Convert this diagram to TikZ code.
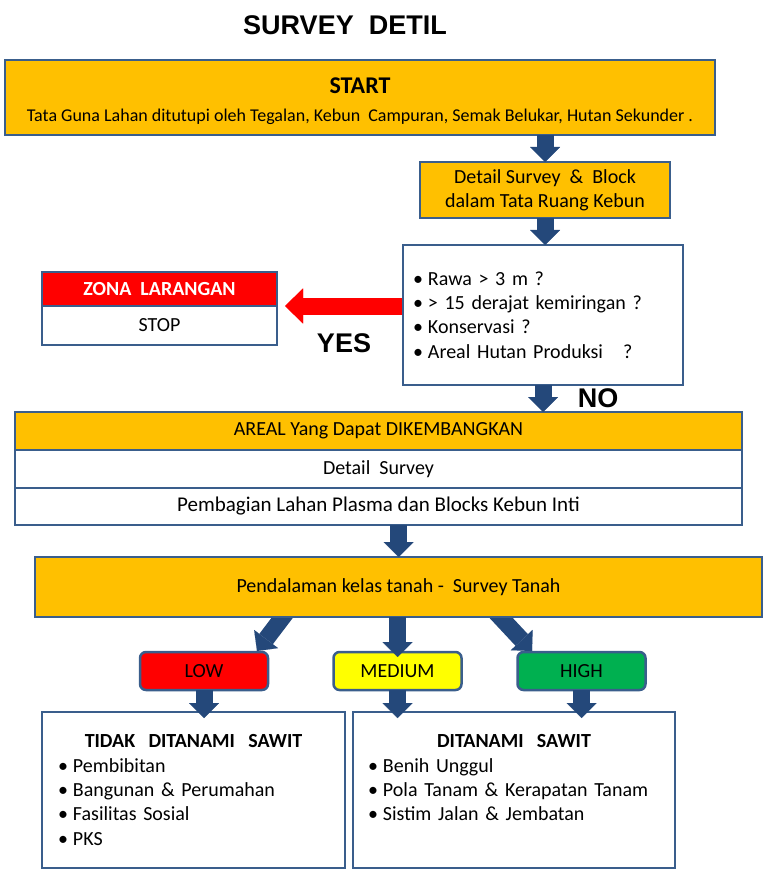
\documentclass[tikz,border=0pt]{standalone}
\usepackage{fontspec}
\setmainfont{Carlito}
\newfontfamily\arialf{Liberation Sans}
\usetikzlibrary{arrows.meta,calc,backgrounds}
\definecolor{gold}{HTML}{FFC000}
\definecolor{bord}{HTML}{3A5E8C}
\definecolor{arr}{HTML}{24487A}
\definecolor{lowred}{HTML}{FF0000}
\definecolor{medyel}{HTML}{FFFF00}
\definecolor{higreen}{HTML}{00B050}
\newcommand{\bul}{•\hspace{5pt}}
\begin{document}
\begin{tikzpicture}[x=1pt,y=-1pt,
 box/.style={draw=bord, line width=2.5pt, inner sep=0pt, outer sep=0pt, align=center, font=\fontsize{20}{24.4}\selectfont},
 barrow/.style={draw=arr, line width=17pt, -{Triangle[width=30pt,length=15pt,line width=0.01pt]}},
 rarrow/.style={draw=lowred, line width=17pt, -{Triangle[width=35pt,length=18pt,line width=0.01pt]}},
 level/.style={box, rounded corners=6pt, minimum width=128pt, minimum height=38pt},
 bigtxt/.style={font=\arialf\bfseries\fontsize{27}{31}\selectfont}
]
\useasboundingbox (0,0) rectangle (765,874);

\node[bigtxt] (title) at (345,25) {SURVEY\ \ DETIL};

\node[box, fill=gold, minimum width=710pt, minimum height=75pt] (start) at (360,97.5)
 {\rule{0pt}{23pt}{\bfseries\fontsize{24}{28}\selectfont START}\\[3pt]{\fontsize{18}{22}\selectfont Tata Guna Lahan ditutupi oleh Tegalan, Kebun\ \ Campuran, Semak Belukar, Hutan Sekunder\ .}};

\node[box, fill=gold, minimum width=250pt, minimum height=56pt] (detail) at (545,190)
 {Detail Survey\ \ \&\ \ Block\\dalam Tata Ruang Kebun};

\node[box, fill=white, minimum width=280pt, minimum height=140pt, text width=260pt, align=left, inner xsep=10pt] (quest) at (543,315)
 {\bul Rawa > 3 m ?\\ \bul > 15 derajat kemiringan ?\\ \bul Konservasi ?\\ \bul Areal Hutan Produksi\ \ \ ?};

\node[box, fill=lowred, text=white, font=\fontsize{20}{24.4}\selectfont\bfseries, minimum width=235pt, minimum height=34pt] (zona) at (159.5,289) {ZONA\ \ LARANGAN};
\node[box, fill=white, minimum width=235pt, minimum height=39pt, anchor=north] (stop) at (zona.south) {STOP};

\node[bigtxt] (yes) at (344,343) {YES};
\node[bigtxt] (no) at (598,398) {NO};

\node[box, fill=gold, minimum width=727pt, minimum height=38pt] (areal) at (378.5,431) {AREAL Yang Dapat DIKEMBANGKAN};
\node[box, fill=white, minimum width=727pt, minimum height=38pt, anchor=north] (det2) at (areal.south) {Detail\ \ Survey};
\node[box, fill=white, minimum width=727pt, minimum height=37pt, anchor=north, font=\fontsize{21}{25}\selectfont] (pemb) at (det2.south) {Pembagian Lahan Plasma dan Blocks Kebun Inti};

\node[box, fill=gold, minimum width=727pt, minimum height=60pt] (pend) at (398.5,587) {Pendalaman kelas tanah\ -\ \ Survey Tanah};

\node[level, fill=lowred] (low) at (204,671) {LOW};
\node[level, fill=medyel] (medium) at (397.5,671) {MEDIUM};
\node[level, fill=higreen] (high) at (581.5,671) {HIGH};

\node[box, fill=white, minimum width=303pt, minimum height=156pt, text width=271pt, align=left, inner xsep=16pt] (tidak) at (193.5,790)
 {\makebox[271pt]{\bfseries TIDAK\ \ DITANAMI\ \ SAWIT}\\ \bul Pembibitan\\ \bul Bangunan \& Perumahan\\ \bul Fasilitas Sosial\\ \bul PKS};
\node[box, fill=white, minimum width=322pt, minimum height=156pt, text width=292pt, align=left, inner xsep=15pt] (dit) at (514,790)
 {\makebox[292pt]{\bfseries DITANAMI\ \ SAWIT}\\ \bul Benih Unggul\\ \bul Pola Tanam \& Kerapatan Tanam\\ \bul Sistim Jalan \& Jembatan\\ \mbox{}};

\draw[barrow] (start.south -| detail.north) -- (detail.north);
\draw[barrow] (detail.south) -- (detail.south |- quest.north);
\draw[barrow] (quest.south) -- (quest.south |- areal.north);
\coordinate (rtip) at (285,306);
\draw[rarrow] ($(quest.west |- rtip)+(-1.5,0)$) -- (rtip);
\draw[barrow] (pemb.south -| pend.north) -- (pend.north);
\begin{scope}[on background layer]
\draw[barrow] ($(pend.south)+(-108.1,-10)$) -- ($(low.north)+(53,-1)$);
\draw[barrow] ($(pend.south)+(92.4,-10)$) -- ($(high.north)+(-49.5,-1)$);
\end{scope}
\draw[barrow] (medium.north |- pend.south) -- ($(medium.north)+(0,5)$);
\draw[barrow] (low.south) -- ($(low.south |- tidak.north)+(0,6)$);
\draw[barrow] (medium.south) -- ($(medium.south |- dit.north)+(0,6)$);
\draw[barrow] (high.south) -- ($(high.south |- dit.north)+(0,6)$);
\end{tikzpicture}
\end{document}
